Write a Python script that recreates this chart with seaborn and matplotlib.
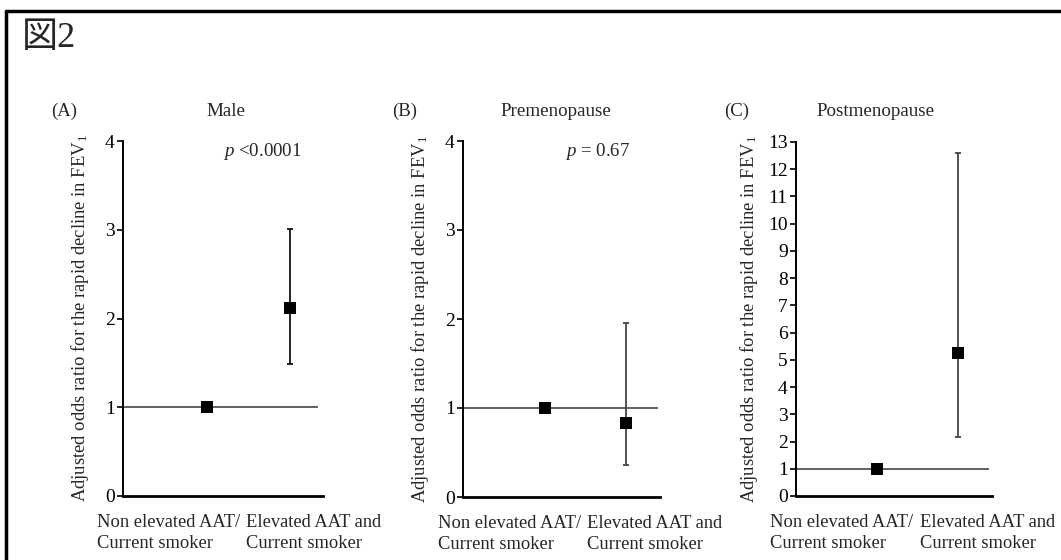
import matplotlib
matplotlib.use("Agg")
import matplotlib.pyplot as plt
import seaborn as sns
import pandas as pd
from matplotlib.lines import Line2D

# ---------------- data ----------------
categories = ["Non elevated AAT/\nCurrent smoker", "Elevated AAT and\nCurrent smoker"]
panel_tags = ["(A)", "(B)", "(C)"]
panel_titles = ["Male", "Premenopause", "Postmenopause"]
p_texts = ["$p$ <0.0001", "$p$ = 0.67", None]

or_male = [1.0, 2.12]
lo_male = [None, 1.49]
hi_male = [None, 3.01]

or_pre = [1.0, 0.83]
lo_pre = [None, 0.36]
hi_pre = [None, 1.96]

or_post = [1.0, 5.26]
lo_post = [None, 2.18]
hi_post = [None, 12.6]

y_max = [4, 4, 13]
ref_value = 1.0

# ---------------- style ----------------
sns.set_theme(style="ticks")
plt.rcParams["font.family"] = ["Liberation Serif", "Noto Sans CJK JP", "DejaVu Sans"]
plt.rcParams["mathtext.fontset"] = "custom"
plt.rcParams["mathtext.rm"] = "Liberation Serif"
plt.rcParams["mathtext.it"] = "Liberation Serif:italic"
plt.rcParams["mathtext.bf"] = "Liberation Serif:bold"

W, H = 1061, 560
fig = plt.figure(figsize=(W / 100, H / 100), dpi=100)
fig.patch.set_facecolor("white")

def px_axes(left, right, top, bottom):
    return fig.add_axes([left / W, 1 - bottom / H, (right - left) / W, (bottom - top) / H])

axes = [
    px_axes(123, 323, 141, 496),
    px_axes(463, 660, 141, 497),
    px_axes(796, 992, 142, 496),
]

data = [
    (or_male, lo_male, hi_male),
    (or_pre, lo_pre, hi_pre),
    (or_post, lo_post, hi_post),
]

xlims = [(-1.01, 1.40), (-1.01, 1.42), (-1.0, 1.42)]
ref_end = [1.34, 1.40, 1.38]
label_dy = [-18, -18, -18]          # pixels below the axis
label_dx = [(-110, -44), (-107, -39), (-107, -38)]
ylabel_pad = [10, 10, 6]
err_color = ["#111111", "#444444", "#444444"]

for k, ax in enumerate(axes):
    vals, lo, hi = data[k]
    df = pd.DataFrame({"x": [0, 1], "cat": categories, "odds": vals})
    ax.set_facecolor("white")
    # reference line
    ax.hlines(ref_value, xlims[k][0], ref_end[k], color="#555555", lw=1.3, zorder=1)
    # error bars
    for i in range(len(vals)):
        if lo[i] is not None:
            ax.errorbar(i, vals[i], yerr=[[vals[i] - lo[i]], [hi[i] - vals[i]]],
                        fmt="none", ecolor=err_color[k], elinewidth=1.3,
                        capsize=2, capthick=1.3, zorder=2)
    sns.scatterplot(data=df, x="x", y="odds", marker="s", s=78, color="black",
                    edgecolor="black", linewidth=0, ax=ax, zorder=3, legend=False)
    ax.set_xlim(*xlims[k])
    ax.set_ylim(0, y_max[k])
    ax.set_yticks(range(0, y_max[k] + 1))
    ax.set_xticks([])
    ax.set_xlabel("")
    ax.set_ylabel("Adjusted odds ratio for the rapid decline in FEV$_1$",
                  fontsize=13.4, labelpad=ylabel_pad[k])
    ax.tick_params(axis="y", direction="out", length=4, width=1.2, labelsize=14,
                   pad=2, colors="black")
    for s in ["top", "right"]:
        ax.spines[s].set_visible(False)
    ax.spines["left"].set_linewidth(1.4)
    ax.spines["bottom"].set_linewidth(2.0)
    ax.spines["left"].set_color("black")
    ax.spines["bottom"].set_color("black")
    # category labels
    for i, cat in enumerate(categories):
        ax.annotate(cat, xy=(i, 0), xycoords=("data", "axes fraction"),
                    xytext=(label_dx[k][i] * 0.72, label_dy[k] * 0.72),
                    textcoords="offset points", ha="left", va="top",
                    fontsize=13.3, linespacing=1.33)
    # p values
    if p_texts[k]:
        ax.text(0.5 if k == 0 else 0.52, 0.97, p_texts[k], transform=ax.transAxes,
                ha="left", va="center", fontsize=13.6)

# titles and panel tags (figure pixel positions)
tag_x = [64, 405, 737]
title_x = [226, 556, 876]
for k in range(3):
    fig.text(tag_x[k] / W, 1 - 111 / H, panel_tags[k], ha="center", va="center", fontsize=13.5)
    fig.text(title_x[k] / W, 1 - 112 / H, panel_titles[k], ha="center", va="center", fontsize=13.7)

# figure label and border
fig.text(22 / W, 1 - 38 / H, "図2", ha="left", va="center", fontsize=26)
fig.add_artist(Line2D([6 / W, 1.0], [1 - 11 / H, 1 - 11 / H], color="black", lw=2.5,
                      transform=fig.transFigure))
fig.add_artist(Line2D([6 / W, 6 / W], [1 - 11 / H, 0.0], color="black", lw=2.5,
                      transform=fig.transFigure))

fig.savefig("out.png", dpi=100, facecolor="white")
